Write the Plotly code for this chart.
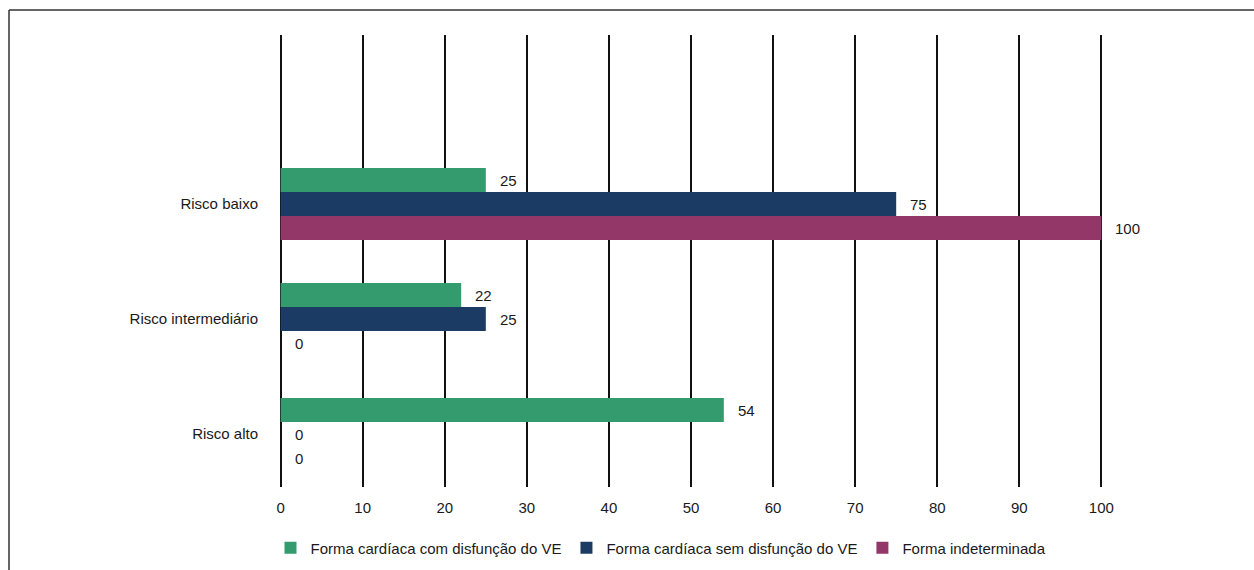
import plotly.graph_objects as go

categories = ["Risco baixo", "Risco intermediário", "Risco alto"]
series_names = [
    "Forma cardíaca com disfunção do VE",
    "Forma cardíaca sem disfunção do VE",
    "Forma indeterminada",
]
com_disfuncao = [25, 22, 54]
sem_disfuncao = [75, 25, 0]
indeterminada = [100, 0, 0]
x_ticks = [0, 10, 20, 30, 40, 50, 60, 70, 80, 90, 100]

colors = ["#349b6f", "#1b3a64", "#933768"]
series_values = [com_disfuncao, sem_disfuncao, indeterminada]

FONT = "Liberation Sans, Arial, sans-serif"
BARGAP = 0.374

fig = go.Figure()
for name, vals, col in zip(series_names, series_values, colors):
    fig.add_trace(go.Bar(
        y=categories, x=vals, name=name, orientation="h",
        marker=dict(color=col, line=dict(width=0)),
    ))

# value labels to the right of each bar end
n = len(series_values)
bw = (1 - BARGAP) / n
annotations = []
for k, vals in enumerate(series_values):
    off = (k - (n - 1) / 2) * bw
    for i, v in enumerate(vals):
        annotations.append(dict(
            x=v, y=i + off, xref="x", yref="y", text=str(v),
            showarrow=False, xanchor="left", yanchor="middle", xshift=12,
            font=dict(family=FONT, size=15, color="#1a1a1a"),
        ))

W, H = 1254, 570
L, R, T, B = 279, 151, 35, 83
pw, ph = W - L - R, H - T - B


def px(xp):
    return (xp - L) / pw


def py(yp):
    return (H - B - yp) / ph


fig.update_layout(
    width=W, height=H,
    margin=dict(l=L, r=R, t=T, b=B, autoexpand=False),
    paper_bgcolor="white", plot_bgcolor="white",
    barmode="group", bargap=BARGAP, bargroupgap=0,
    font=dict(family=FONT, size=15, color="#1a1a1a"),
    xaxis=dict(
        range=[-0.2, 100.2], tickvals=x_ticks, showgrid=True, gridcolor="#111111",
        gridwidth=1.6, zeroline=False, showline=False, ticks="",
        ticklabelstandoff=10, tickfont=dict(size=15), fixedrange=True,
    ),
    yaxis=dict(
        type="category", categoryorder="array", categoryarray=categories,
        range=[2.46, -1.47], showgrid=False, zeroline=False, showline=False,
        ticks="", ticklabelstandoff=20, tickfont=dict(size=15),
    ),
    legend=dict(
        orientation="h", x=px(661), xanchor="center", y=py(548), yanchor="middle",
        font=dict(size=15), itemwidth=30, tracegroupgap=0,
    ),
    annotations=annotations,
    shapes=[
        dict(type="line", xref="paper", yref="paper", x0=px(9), x1=px(1260),
             y0=py(10), y1=py(10), line=dict(color="#333333", width=1.5)),
        dict(type="line", xref="paper", yref="paper", x0=px(9), x1=px(9),
             y0=py(10), y1=py(580), line=dict(color="#333333", width=1.5)),
    ],
)

fig.write_html("out.html")
